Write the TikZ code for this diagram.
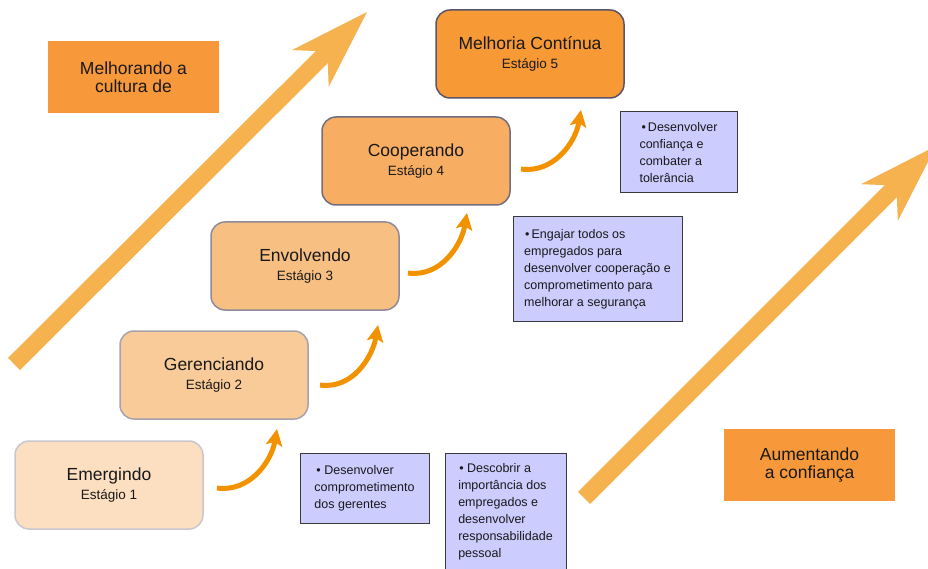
\documentclass[tikz,border=0pt]{standalone}
\usepackage{fontspec}
\setmainfont{Liberation Sans}
\usetikzlibrary{arrows.meta}

\definecolor{trendfill}{HTML}{F7983A}
\definecolor{bigarrow}{HTML}{F5B24E}
\definecolor{flowarrow}{HTML}{F39200}
\definecolor{notefill}{HTML}{CCCCFF}
\definecolor{noteline}{HTML}{3A3A3A}
\definecolor{stageA}{HTML}{FBDFC0}
\definecolor{stageB}{HTML}{F9CB98}
\definecolor{stageC}{HTML}{F8BF82}
\definecolor{stageD}{HTML}{F7AE62}
\definecolor{stageE}{HTML}{F79935}
\definecolor{lineA}{HTML}{CAC6CE}
\definecolor{lineB}{HTML}{A6A2AE}
\definecolor{lineC}{HTML}{8E8A9A}
\definecolor{lineD}{HTML}{716D80}
\definecolor{lineE}{HTML}{5A5568}

\newcommand{\stagesub}[1]{{\fontsize{13.5}{19}\selectfont #1}}

\begin{document}
\begin{tikzpicture}[x=1pt, y=-1pt,
    stagebox/.style={draw, rounded corners=14pt, line width=1.5pt, minimum width=188pt,
      minimum height=88pt, align=center, text=black!90, font=\fontsize{17.5}{19}\selectfont},
    notebox/.style={draw=noteline, fill=notefill, line width=1pt, align=left,
      text=black!90, font=\fontsize{12.5}{17}\selectfont},
    trendbox/.style={fill=trendfill, minimum width=171pt, minimum height=72pt, align=center,
      text=black!90, font=\fontsize{17.5}{18.5}\selectfont},
    flowstep/.style={draw=flowarrow, line width=5pt,
      -{Stealth[length=17pt, width=17pt, inset=4pt, line width=0pt]}},
    trendarrow/.style={draw=bigarrow, line width=17pt,
      -{Stealth[length=80pt, width=52pt, inset=24pt, line width=0pt]}}]
    \useasboundingbox (0,0) rectangle (928,569);
    \clip (0,0) rectangle (928,569);

    % big trend arrows
    \coordinate (cultTail) at (14,364);
    \coordinate (cultTip) at (367,12);
    \coordinate (confTail) at (584,498);
    \coordinate (confTip) at (936,146);
    \draw[trendarrow] (cultTail) -- (cultTip);
    \draw[trendarrow] (confTail) -- (confTip);

    % trend labels
    \node[trendbox] (cultura) at (133.5,77) {Melhorando a\\cultura de};
    \node[trendbox] (confianca) at (809.5,465) {Aumentando\\a confiança};

    % stages
    \node[stagebox, fill=stageA, draw=lineA] (emerg) at (109,485)
      {Emergindo\\\stagesub{Estágio 1}};
    \node[stagebox, fill=stageB, draw=lineB] (geren) at (214,375)
      {Gerenciando\\\stagesub{Estágio 2}};
    \node[stagebox, fill=stageC, draw=lineC] (envolv) at (305,266)
      {Envolvendo\\\stagesub{Estágio 3}};
    \node[stagebox, fill=stageD, draw=lineD] (cooper) at (416,161)
      {Cooperando\\\stagesub{Estágio 4}};
    \node[stagebox, fill=stageE, draw=lineE] (melhor) at (530,54)
      {Melhoria Contínua\\\stagesub{Estágio 5}};

    % notes
    \node[notebox, minimum width=129pt, minimum height=70pt] (noteA) at (364.5,488)
      {\hspace*{2pt}\textbullet\ Desenvolver\\comprometimento\\dos gerentes};
    \node[notebox, minimum width=121pt, minimum height=117pt] (noteB) at (505.5,511.5)
      {\hspace*{1pt}\textbullet\ Descobrir a\\importância dos\\empregados e\\desenvolver\\responsabilidade\\pessoal};
    \node[notebox, minimum width=169pt, minimum height=104pt] (noteC) at (597.5,269)
      {\hspace*{1pt}\textbullet\,Engajar todos os\\empregados para\\desenvolver cooperação e\\comprometimento para\\melhorar a segurança};
    \node[notebox, minimum width=117pt, minimum height=81pt] (noteD) at (678.5,152.5)
      {\hspace*{2pt}\textbullet\,Desenvolver\\confiança e\\combater a\\tolerância};

    % flow arrows between stages
    \coordinate (flowA) at (217,488);
    \coordinate (flowB) at (277,429);
    \coordinate (flowC) at (320,385);
    \coordinate (flowD) at (378,325);
    \coordinate (flowE) at (408,273);
    \coordinate (flowF) at (467,213);
    \coordinate (flowG) at (521,169);
    \coordinate (flowH) at (581,110);
    \draw[flowstep] (flowA) to[out=-8, in=-100] (flowB);
    \draw[flowstep] (flowC) to[out=-8, in=-100] (flowD);
    \draw[flowstep] (flowE) to[out=-8, in=-100] (flowF);
    \draw[flowstep] (flowG) to[out=-8, in=-100] (flowH);
\end{tikzpicture}
\end{document}
